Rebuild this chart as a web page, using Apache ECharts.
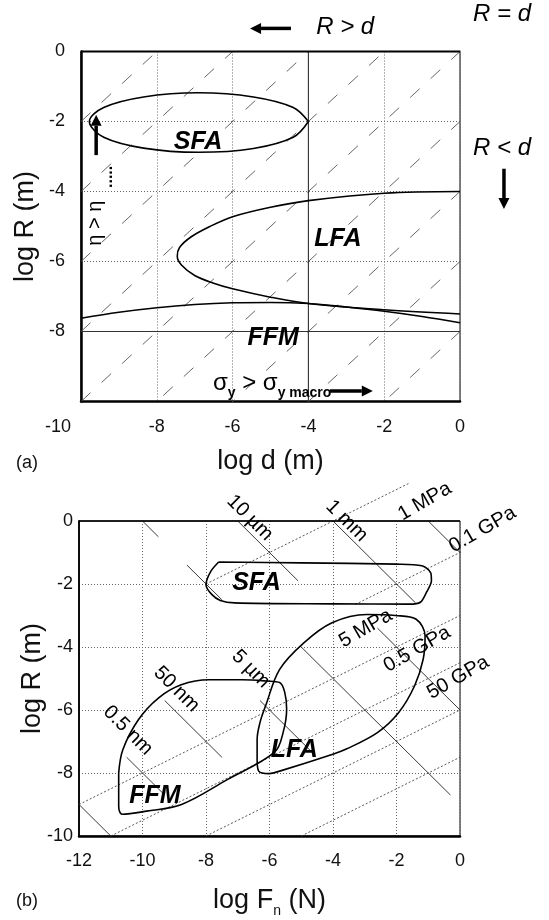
<!DOCTYPE html>
<html><head><meta charset="utf-8">
<script src="https://cdn.jsdelivr.net/npm/echarts@6/dist/echarts.min.js"></script>
<style>html,body{margin:0;padding:0;background:#fff}#c{width:549px;height:920px}</style>
</head><body><div id="c"></div>
<script>
const FONT = '"Liberation Sans", Arial, sans-serif';

// ---------- Panel (a): log R vs log d ----------
const aDiagOffsets = [-8, -6, -4, -2, 0, 2, 4, 6, 8];          // R = d + c guide lines
const aRdExtension = [[0, 0], [0.55, 0.55]];                   // R = d continued outside
const aSolidX = [-4];
const aSolidY = [-8];
const aSFA = [[-4.0,-2.0],[-4.4,-1.6],[-5.45,-1.3],[-6.9,-1.18],[-8.35,-1.3],[-9.4,-1.6],[-9.78,-2.0],
              [-9.4,-2.45],[-8.35,-2.76],[-6.9,-2.88],[-5.45,-2.77],[-4.4,-2.45],[-4.0,-2.0]];
const aLFA = [[0,-4.0],[-2,-4.05],[-4,-4.26],[-5,-4.45],[-6,-4.72],[-6.6,-5.0],[-7.1,-5.3],[-7.4,-5.6],
              [-7.46,-5.85],[-7.35,-6.1],[-7.0,-6.4],[-6.5,-6.62],[-6,-6.78],[-5,-7.02],[-4,-7.2],[-2,-7.38],[0,-7.5]];
const aFFM = [[-10,-7.62],[-9,-7.45],[-8,-7.32],[-7,-7.23],[-6,-7.18],[-5,-7.17],[-4,-7.2],[-3,-7.3],
              [-2,-7.42],[-1,-7.57],[0,-7.75]];
const aRegionLabels = [
  {text:'SFA', x:-6.91, y:-2.59}, {text:'LFA', x:-3.22, y:-5.36}, {text:'FFM', x:-4.93, y:-8.2}];
const aRelationLabels = [
  {text:'R > d', x:-3.03, y:0.68}, {text:'R = d', x:1.11, y:1.05}, {text:'R < d', x:1.11, y:-2.77}];

// ---------- Panel (b): log R vs log Fn ----------
const bSFA = [[-7.6,-1.3],[-5,-1.33],[-2,-1.37],[-1.2,-1.42],[-0.92,-1.65],[-0.9,-1.9],[-1.05,-2.25],
              [-1.25,-2.58],[-1.6,-2.64],[-4,-2.63],[-7.1,-2.6],[-7.55,-2.52],[-7.82,-2.33],[-8.0,-2.02],
              [-7.85,-1.6],[-7.6,-1.3]];
const bLFA = [[-6.39,-7.57],[-6.39,-6.94],[-6.3,-6.4],[-6.12,-5.86],[-5.68,-4.71],[-4.91,-3.86],[-4.03,-3.23],
              [-2.93,-2.97],[-2.04,-3.0],[-1.38,-3.12],[-1.1,-3.65],[-1.16,-4.39],[-1.43,-5.23],[-1.93,-6.08],
              [-2.59,-6.71],[-3.58,-7.24],[-4.03,-7.41],[-5.68,-7.94],[-6.01,-8.02],[-6.34,-7.94],[-6.39,-7.57]];
const bFFM = [[-10.75,-8.0],[-10.62,-7.26],[-10.13,-6.31],[-9.5,-5.62],[-8.78,-5.2],[-7.9,-5.04],[-6.86,-5.04],
              [-6.1,-5.08],[-5.68,-5.13],[-5.52,-5.44],[-5.46,-5.97],[-5.57,-6.71],[-5.84,-7.34],[-7.33,-8.21],
              [-8.77,-9.0],[-9.87,-9.21],[-10.64,-9.31],[-10.75,-9.05],[-10.75,-8.0]];
// solid (slope -1) and dotted (slope 1/2) reference segments: [x1, y1, x2, y2]
const bSolidLines = [
  [-10,0,-9.5,-0.5], [-8.6,-1.4,-7.5,-2.5], [-7,0,-5.1,-1.9], [-4,0,-1.4,-2.6], [-1,0,0,-1],
  [-2.6,-3.4,0,-6], [-5,-4,-0.3,-8.7], [-6.3,-5.7,-4.6,-7.4], [-9.3,-5.7,-7.5,-7.5],
  [-10.5,-7.5,-9.3,-8.7], [-12,-9,-11,-10]];
const bDottedLines = [
  [-8,-2,-1.6,1.2], [-3.3,-2.65,0.4,-0.8], [-12,-9,0,-3], [-11,-10,0,-4.5], [-8,-10,0,-6], [-5,-10,0,-7.5]];
const bLineLabels = [
  {text:'10 µm', x:-6.62, y:0.1, rot:-45}, {text:'1 mm', x:-3.57, y:0.0, rot:-45},
  {text:'1 MPa', x:-1.11, y:0.62, rot:30}, {text:'0.1 GPa', x:0.71, y:-0.27, rot:30},
  {text:'5 MPa', x:-2.97, y:-3.41, rot:30}, {text:'0.5 GPa', x:-1.35, y:-4.07, rot:30},
  {text:'50 GPa', x:-0.06, y:-4.97, rot:30}, {text:'5 µm', x:-6.59, y:-4.7, rot:-45},
  {text:'50 nm', x:-8.93, y:-5.34, rot:-45}, {text:'0.5 nm', x:-10.46, y:-6.65, rot:-45}];
const bRegionLabels = [
  {text:'SFA', x:-6.41, y:-1.96}, {text:'LFA', x:-5.22, y:-7.26}, {text:'FFM', x:-9.61, y:-8.73}];

// ---------- helpers ----------
function lineSer(gi, data, style, extra) {
  return Object.assign({type:'line', xAxisIndex:gi, yAxisIndex:gi, data:data, symbol:'none',
    silent:true, animation:false, lineStyle:style, z:3}, extra || {});
}
const dotStyle = {color:'#444', width:0.9, type:[2, 2]};
const thinSolid = {color:'#222', width:0.9};
const curveStyle = {color:'#000', width:1.6};

const series = [];
aDiagOffsets.forEach(c => series.push(lineSer(0, [[-10, -10 + c], [0, c]], {color:'#555', width:0.9, type:[13, 15]})));
series.push(lineSer(0, aRdExtension, {color:'#777', width:0.9, type:[6, 6]}, {clip:false}));
aSolidX.forEach(x => series.push(lineSer(0, [[x, -10], [x, 0]], {color:'#333', width:1.1})));
aSolidY.forEach(y => series.push(lineSer(0, [[-10, y], [0, y]], {color:'#333', width:1.1})));
series.push(lineSer(0, [[-10, 0], [0, 0]], {color:'#000', width:2.2}, {clip:false}));
series.push(lineSer(0, aSFA, curveStyle, {smooth:0.35, z:5}));
series.push(lineSer(0, aLFA, curveStyle, {smooth:0.35, z:5}));
series.push(lineSer(0, aFFM, curveStyle, {smooth:0.35, z:5}));
bDottedLines.forEach(s => series.push(lineSer(1, [[s[0], s[1]], [s[2], s[3]]], dotStyle, {clip:false})));
bSolidLines.forEach(s => series.push(lineSer(1, [[s[0], s[1]], [s[2], s[3]]], thinSolid)));
series.push(lineSer(1, [[-12, 0], [0, 0]], {color:'#000', width:1.6}, {clip:false}));
series.push(lineSer(1, bSFA, curveStyle, {smooth:0.3, z:5}));
series.push(lineSer(1, bLFA, curveStyle, {smooth:0.35, z:5}));
series.push(lineSer(1, bFFM, curveStyle, {smooth:0.35, z:5}));

const tickText = {fontSize:18, color:'#111', fontFamily:FONT};
const nameText = {fontSize:27, color:'#111', fontFamily:FONT};
const gridDot = {show:true, lineStyle:{color:'#666', width:1, type:[1, 2]}};

const option = {
  backgroundColor:'#fff',
  animation:false,
  grid:[
    {left:81, top:51.5, width:379, height:350, show:true, borderColor:'#000', borderWidth:1, backgroundColor:'transparent', outerBoundsMode:'none', containLabel:false},
    {left:79, top:521, width:381, height:315, show:true, borderColor:'#000', borderWidth:1, backgroundColor:'transparent', outerBoundsMode:'none', containLabel:false}
  ],
  xAxis:[
    {gridIndex:0, type:'value', min:-10, max:0, interval:2,
     axisLine:{show:true, onZero:false, lineStyle:{color:'#000', width:2.5}}, axisTick:{show:false},
     splitLine:gridDot,
     axisLabel:Object.assign({margin:17, formatter: v => v === -10 ? '{sh|-10}' : String(v),
       rich:{sh:Object.assign({padding:[0, 46, 0, 0]}, tickText)}}, tickText),
     name:'log d (m)', nameLocation:'middle', nameGap:47, nameMoveOverlap:false,
     nameTextStyle:nameText},
    {gridIndex:1, type:'value', min:-12, max:0, interval:2,
     axisLine:{show:true, onZero:false, lineStyle:{color:'#000', width:2.5}}, axisTick:{show:false},
     splitLine:gridDot,
     axisLabel:Object.assign({margin:16}, tickText),
     name:'{a|log F}{s|n}{a| (N)}', nameLocation:'middle', nameGap:51, nameMoveOverlap:false,
     nameTextStyle:{fontFamily:FONT, color:'#111', rich:{
       a:{fontSize:27, color:'#111', fontFamily:FONT, verticalAlign:'bottom', padding:[0,0,4,0]},
       s:{fontSize:14, color:'#111', fontFamily:FONT, verticalAlign:'bottom'}}}}
  ],
  yAxis:[
    {gridIndex:0, type:'value', min:-10, max:0, interval:2,
     axisLine:{show:true, onZero:false, lineStyle:{color:'#000', width:2.5}}, axisTick:{show:false},
     splitLine:gridDot,
     axisLabel:Object.assign({margin:16, formatter: v => v === -10 ? '' : String(v)}, tickText),
     name:'log R (m)', nameLocation:'middle', nameGap:42, nameMoveOverlap:false,
     nameTextStyle:nameText},
    {gridIndex:1, type:'value', min:-10, max:0, interval:2,
     axisLine:{show:true, onZero:false, lineStyle:{color:'#000', width:1.8}}, axisTick:{show:false},
     splitLine:gridDot,
     axisLabel:Object.assign({margin:6}, tickText),
     name:'log R (m)', nameLocation:'middle', nameGap:33, nameMoveOverlap:false,
     nameTextStyle:nameText}
  ],
  series: series
};

const chart = echarts.init(document.getElementById('c'), null, {renderer:'canvas', width:549, height:920});
chart.setOption(option);

// ---------- annotations positioned from data coordinates ----------
const P = (gi, pt) => chart.convertToPixel({gridIndex:gi}, pt);
const graphics = [];
function addLabels(gi, items, font) {
  items.forEach(d => {
    const p = P(gi, [d.x, d.y]);
    graphics.push({type:'text', x:p[0], y:p[1], rotation:(d.rot || 0) * Math.PI / 180, z:20,
      style:{text:d.text, font:font, fill:'#000', align:'center', verticalAlign:'middle'}});
  });
}
addLabels(0, aRegionLabels, 'italic bold 25px ' + FONT);
addLabels(0, aRelationLabels, 'italic 24px ' + FONT);
addLabels(1, bRegionLabels, 'italic bold 25px ' + FONT);
addLabels(1, bLineLabels, '20px ' + FONT);

const annArrows = [
  {gi:0, from:[-4.46, 0.66], to:[-5.54, 0.66]},     // R > d
  {gi:0, from:[-9.6, -2.96], to:[-9.6, -1.81]},     // eta
  {gi:0, from:[1.16, -3.35], to:[1.16, -4.5]},      // R < d
  {gi:0, from:[-3.43, -9.7], to:[-2.3, -9.7]}       // sigma_y
];
annArrows.forEach(a => {
  const p1 = P(a.gi, a.from), p2 = P(a.gi, a.to);
  const dx = p2[0] - p1[0], dy = p2[1] - p1[1], L = Math.hypot(dx, dy);
  const ux = dx / L, uy = dy / L, hl = 11, hw = 5.5;
  const bx = p2[0] - ux * hl, by = p2[1] - uy * hl;
  graphics.push({type:'line', shape:{x1:p1[0], y1:p1[1], x2:bx, y2:by}, style:{stroke:'#000', lineWidth:3.5}, z:20});
  graphics.push({type:'polygon', shape:{points:[[p2[0], p2[1]], [bx - uy * hw, by + ux * hw], [bx + uy * hw, by - ux * hw]]},
    style:{fill:'#000'}, z:20});
});
const etaPos = P(0, [-9.62, -5.55]);
graphics.push({type:'text', x:etaPos[0], y:etaPos[1], rotation:Math.PI / 2, z:20,
  style:{text:'η > η', font:'20px ' + FONT, fill:'#000', align:'left', verticalAlign:'middle'}});
const dotPos = P(0, [-9.3, -3.9]);
graphics.push({type:'text', x:dotPos[0], y:dotPos[1], rotation:Math.PI / 2, z:20,
  style:{text:'.....', font:'bold 16px ' + FONT, fill:'#000', align:'left', verticalAlign:'middle'}});
const sigPos = P(0, [-6.52, -9.54]);
graphics.push({type:'text', x:sigPos[0], y:sigPos[1], z:20,
  style:{text:'{a|σ}{s|y}{a| > σ}{s|y macro}', fill:'#000', align:'left', verticalAlign:'middle',
    rich:{a:{fontSize:24, fontFamily:FONT, fill:'#000', verticalAlign:'bottom', padding:[0,0,5,0]},
          s:{fontSize:14, fontWeight:'bold', fontFamily:FONT, fill:'#000', verticalAlign:'bottom'}}}});
graphics.push({type:'text', x:16, y:463, z:20, style:{text:'(a)', font:'18px ' + FONT, fill:'#111', verticalAlign:'middle'}});
graphics.push({type:'text', x:16, y:901, z:20, style:{text:'(b)', font:'18px ' + FONT, fill:'#111', verticalAlign:'middle'}});
chart.setOption({graphic:graphics});
</script></body></html>
